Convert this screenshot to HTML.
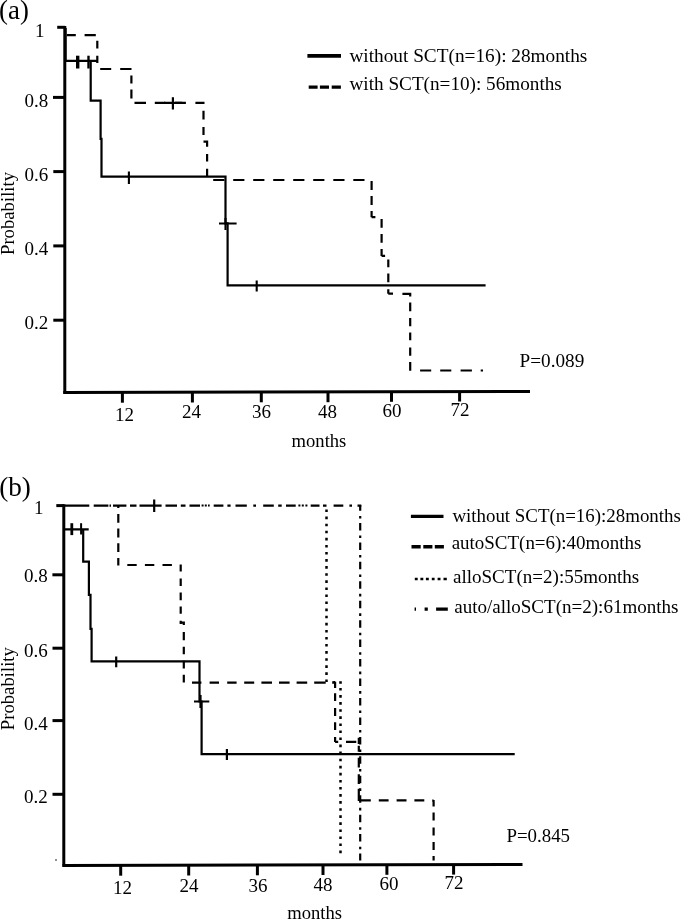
<!DOCTYPE html>
<html>
<head>
<meta charset="utf-8">
<style>
html,body{margin:0;padding:0;background:#fff;width:682px;height:920px;overflow:hidden;}
svg{display:block;filter:grayscale(1);}
text{font-family:"Liberation Serif",serif;fill:#000;}
</style>
</head>
<body>
<svg width="682" height="920" viewBox="0 0 682 920">
<rect x="0" y="0" width="682" height="920" fill="#fff"/>

<!-- ================= PANEL A ================= -->
<g id="pa">
<text x="-0.9" y="18.5" font-size="26.8">(a)</text>

<!-- axes -->
<g stroke="#000" fill="none" stroke-width="3">
  <path d="M64.8,26 V393.8"/>
  <path d="M63.3,392.5 L530,391.5"/>
  <!-- y ticks -->
  <path d="M57.2,27.3 H65" />
  <path d="M53,97.4 H64"/>
  <path d="M53.3,171.6 H64"/>
  <path d="M53.3,245.9 H64"/>
  <path d="M53.3,320.2 H64"/>
  <!-- x ticks -->
  <path d="M122.4,392 V402.7"/>
  <path d="M192.4,392 V402.5"/>
  <path d="M261.3,392 V402.3"/>
  <path d="M328,392 V402.2"/>
  <path d="M391.5,392 V401.8"/>
  <path d="M459.6,391.5 V401.5"/>
</g>

<g font-size="19">
  <text x="34.9" y="36.7">1</text>
  <text x="24.6" y="107.4">0.8</text>
  <text x="24.6" y="181">0.6</text>
  <text x="24.6" y="254.8">0.4</text>
  <text x="24.6" y="329.3">0.2</text>
  <text x="115" y="421">12</text>
  <text x="182.1" y="417.8">24</text>
  <text x="252" y="418">36</text>
  <text x="318" y="417.7">48</text>
  <text x="382.4" y="417.3">60</text>
  <text x="450.5" y="416">72</text>
</g>
<text x="291.6" y="446.8" font-size="18.6">months</text>
<text transform="translate(13.8,255) rotate(-90)" x="0" y="0" font-size="18.7">Probability</text>

<!-- curves -->
<g stroke="#000" fill="none" stroke-width="2.2">
  <path d="M65.6,28 V60.9 H97 M90.7,60.9 V100.7 H100.6 V138.9 H101.5 V176.7 H225.5 V223.3 H227.6 V285.4 H485.6"/>
  <!-- censor ticks solid -->
  <path d="M128.9,171.6 V183.9 M256.7,280.5 V291.6 M219,223.5 H236.6 M225.5,218 V230" stroke-width="2.1"/>
  <path d="M77.7,55.7 V68.5" stroke-width="3.4"/><path d="M88.5,55.7 V68.5" stroke-width="2.4"/>
</g>
<path stroke="#000" fill="none" stroke-width="2.2" d="M66.8,35.1H75.8M84.6,35.1H95.8M97.3,40.8V48.5M97.3,55.7V63.1M100.2,69.0H111.2M120.2,69.0H131.5M131.4,75.5V83.4M131.4,89.6V98.4M134.5,102.8H146.0M154.8,102.8H165.3M175.0,102.8H185.9M195.4,102.8H204.5M203.5,110.8V119.6M203.5,126.9V135.0M203.5,141.6H207.1M207.1,140.6V146.7M207.1,154.0V161.4M207.1,168.7V176.8M213.2,180.0H224.4M233.2,180.0H244.4M253.2,180.0H264.4M273.2,180.0H284.4M293.2,180.0H304.4M313.2,180.0H324.4M333.3,180.0H344.5M353.3,180.0H364.5M371.6,181.0V190.0M371.6,196.0V204.9M371.6,211.0V217.2M371.6,217.2H375.4M381.6,219.0V227.7M381.6,233.9V242.7M381.6,248.9V255.9M381.6,255.9H385.1M388.3,259.4V267.3M388.3,273.5V282.3M388.3,289.3V293.7M388.3,293.7H393M402.4,293.8H410.2V296.6M410.2,302.6V311.3M410.2,318.0V326.3M410.2,332.5V340.3M410.2,347.5V355.8M410.2,362.0V370.7M420.1,370.5H431.2M440.2,370.5H451.3M460.6,370.5H471.9M480.7,370.5H483.0"/>
<g stroke="#000" fill="none" stroke-width="2.2">
  <path d="M172.9,97.2 V109.5 M164,102.8 H182"/>
</g>

<!-- legend -->
<path d="M307.4,55.9 H341" stroke="#000" stroke-width="3.6"/>
<path d="M308.7,87.1 H317.6 M319.9,87.1 H329 M331.7,87.1 H340.9" stroke="#000" stroke-width="3.3"/>
<g font-size="19.2">
  <text x="349.4" y="62.4" font-size="19.3">without SCT(n=16): 28months</text>
  <text x="349.5" y="89.5">with SCT(n=10): 56months</text>
  <text x="519.6" y="367.4">P=0.089</text>
</g>
</g>

<!-- ================= PANEL B ================= -->
<g id="pb">
<text x="-0.8" y="496.3" font-size="27.2">(b)</text>

<g stroke="#000" fill="none" stroke-width="3">
  <path d="M63.8,504.3 V866.8"/>
  <path d="M62.5,865.5 L522.5,864.5"/>
  <path d="M56.3,505.6 H64"/>
  <path d="M52.4,574.8 H64"/>
  <path d="M52.5,648.2 H64"/>
  <path d="M52.5,720.6 H64"/>
  <path d="M52.5,794.3 H64"/>
  <path d="M120.7,865 V875.7"/>
  <path d="M188.7,865 V875.5"/>
  <path d="M257.4,865 V875.3"/>
  <path d="M323,865 V875"/>
  <path d="M386.9,864.8 V874.8"/>
  <path d="M453.6,864.6 V874.6"/>
</g>

<g font-size="19">
  <text x="34" y="514">1</text>
  <text x="23.9" y="582.4">0.8</text>
  <text x="24.1" y="657.2">0.6</text>
  <text x="24.1" y="730">0.4</text>
  <text x="23.9" y="802.5">0.2</text>
  <text x="112.9" y="893.8">12</text>
  <text x="179.5" y="891.5">24</text>
  <text x="248.5" y="891.8">36</text>
  <text x="313.5" y="891">48</text>
  <text x="379.5" y="890.4">60</text>
  <text x="444.4" y="888.7">72</text>
</g>
<text x="287.2" y="918.6" font-size="18.6">months</text>
<text transform="translate(13.8,730.2) rotate(-90)" x="0" y="0" font-size="18.7">Probability</text>

<!-- curves -->
<g stroke="#000" fill="none" stroke-width="2.2">
  <path d="M65,529.4 H88.7 M83.2,529.4 V561.7 H88.9 V594.9 H90.5 V628.8 H91.6 V661.3 H199.5 V701.5 H201.6 V754.2 H514.7"/>
  <path d="M116.2,656.5 V667.2 M226.9,749 V760.1 M194,701.5 H209.3 M200.5,695 V708 M154.2,499.5 V512"/>
  <path d="M71.8,523.2 V535.1" stroke-width="2.8"/><path d="M81.1,523.2 V534.5" stroke-width="2"/>
</g>
<!-- autoSCT dashed / top line / dotted / dash-dot -->
<path stroke="#000" fill="none" stroke-width="2.3" d="M64.4,505.6H89.3M93.7,505.6H108.4M109.5,505.6H111.0M113.0,505.6H126.4M130.0,505.6H136.5M139.5,505.6H148.4M148.4,505.6H161.6M165.5,505.6H177.0M180.8,505.6H185.5M189.5,505.6H200.0M213.7,505.6H223.4M227.4,505.6H230.6M235.5,505.6H246.8M253.3,505.6H256.0M263.2,505.6H273.8M278.2,505.6H281.7M286.0,505.6H295.7M310.7,505.6H319.5M323.0,505.6H326.5M333.6,505.6H343.3M349.4,505.6H352.0M357.5,505.6H361.3"/>
<path stroke="#000" fill="none" stroke-width="2.0" d="M201.6,505.6H203.6M204.8,505.6H206.8M208.0,505.6H209.7M298.4,505.6H300.4M301.8,505.6H303.8M305.4,505.6H307.4"/>
<path stroke="#000" fill="none" stroke-width="2.2" d="M118.3,505.6V508M118.3,513.9V522.7M118.3,528.6V537.4M118.3,543.3V552.0M118.3,557.9V565.6M127.3,565.0H136.7M144.9,565.0H154.3M162.5,565.0H171.9M180.7,564.4V571.4M180.7,578.5V586.1M180.7,592.5V600.2M180.7,606.6V613.7M180.7,620.7V624.0M180.7,622.6H183.8V625M183.8,632.0V640.2M183.8,646.7V654.3M183.8,660.7V668.4M183.8,674.8V682.4M192.0,682.6H201.4M209.6,682.6H219.0M227.2,682.6H236.6M244.2,682.6H254.2M261.4,682.6H272.0M279.0,682.6H289.6M296.6,682.6H307.2M314.2,682.6H325.7M333.4,682.2H335.2M335.1,681.7V687.9M335.1,693.2V701.1M335.1,708.1V716.0M335.1,722.2V730.1M335.1,737.1V742.0M335.1,741.9H338.2M346.0,741.8H356.3M358.8,737.8V743.9M358.8,745.7V751.7M358.8,757.8V767.4M358.8,774.3V783.9M358.8,788.7V801.0M360.3,800.3H370.8M378.8,800.3H388.6M396.6,800.3H406.5M414.4,800.3H424.3M432.2,800.6H433.6M433.6,799.9V806.5M433.6,812.4V820.4M433.6,827.6V835.5M433.6,842.1V850.0M433.6,856.0V860.6"/>
<path stroke="#000" fill="none" stroke-width="2.5" d="M326.5,509.5V512.1M326.5,516.6V519.2M326.5,523.7V526.3M326.5,530.7V533.3M326.5,537.8V540.4M326.5,544.9V547.5M326.5,552.0V554.6M326.5,559.1V561.7M326.5,566.1V568.7M326.5,573.2V575.8M326.5,580.3V582.9M326.5,587.4V590.0M326.5,594.5V597.1M326.5,601.5V604.1M326.5,608.6V611.2M326.5,615.7V618.3M326.5,622.8V625.4M326.5,629.9V632.5M326.5,636.9V639.5M326.5,644.0V646.6M326.5,651.1V653.7M326.5,658.2V660.8M326.5,665.3V667.9M326.5,672.3V674.9M326.5,679.4V682.0M340.5,688.0V690.6M340.5,695.1V697.7M340.5,702.1V704.7M340.5,709.2V711.8M340.5,716.3V718.9M340.5,723.4V726.0M340.5,730.4V733.0M340.5,737.5V740.1M340.5,744.6V747.2M340.5,751.6V754.2M340.5,758.7V761.3M340.5,765.8V768.4M340.5,772.8V775.4M340.5,779.9V782.5M340.5,787.0V789.6M340.5,794.1V796.7M340.5,801.1V803.7M340.5,808.2V810.8M340.5,815.3V817.9M340.5,822.3V824.9M340.5,829.4V832.0M340.5,836.5V839.1M340.5,843.5V846.1M340.5,850.6V853.2M332.2,682.6H334.8M339.2,682.6H341.8"/>
<path stroke="#000" fill="none" stroke-width="2.2" d="M360.2,505.0V510.8M360.2,516.0V518.6M360.2,522.9V530.4M360.2,535.5V538.0M360.2,542.4V549.9M360.2,554.9V557.5M360.2,561.8V569.3M360.2,574.4V577.0M360.2,581.3V588.8M360.2,593.8V596.4M360.2,600.7V608.2M360.2,613.3V615.9M360.2,620.2V627.7M360.2,632.7V635.3M360.2,639.6V647.1M360.2,652.2V654.8M360.2,659.1V666.6M360.2,671.6V674.2M360.2,678.5V686.0M360.2,691.1V693.7M360.2,698.0V705.5M360.2,710.5V713.1M360.2,717.4V724.9M360.2,730.0V732.6M360.2,736.9V744.4M360.2,749.4V752.0M360.2,756.3V763.8M360.2,768.9V771.5M360.2,775.8V783.3M360.2,788.3V790.9M360.2,795.2V802.7M360.2,807.8V810.4M360.2,814.7V822.2M360.2,827.2V829.8M360.2,834.1V841.6M360.2,846.7V849.3M360.2,853.6V860.6"/>

<circle cx="56" cy="860" r="0.8" fill="#000"/>
<!-- legend -->
<path d="M410.9,516.4 H443.5" stroke="#000" stroke-width="3.1"/>
<path d="M411.5,546.8 H420.7 M423.3,546.8 H432.4 M434.8,546.8 H443.9" stroke="#000" stroke-width="3.5"/>
<path d="M414.8,579 H417.7 M420.4,579 H423.3 M425.9,579 H428.8 M431.8,579 H434.6 M437.6,579 H440.5 M443.5,579 H446.8" stroke="#000" stroke-width="2.7"/>
<path d="M414.6,609.2 H416 M424.6,609.2 H427.8 M436.1,609.2 H447.8" stroke="#000" stroke-width="3.3"/>
<g font-size="18.9">
  <text x="452.4" y="522.4">without SCT(n=16):28months</text>
  <text x="451.7" y="549.3" font-size="18.97">autoSCT(n=6):40months</text>
  <text x="453" y="582.5" font-size="19.05">alloSCT(n=2):55months</text>
  <text x="454.2" y="613.4" font-size="19.05">auto/alloSCT(n=2):61months</text>
  <text x="506.4" y="842.2">P=0.845</text>
</g>
</g>
</svg>
</body>
</html>
